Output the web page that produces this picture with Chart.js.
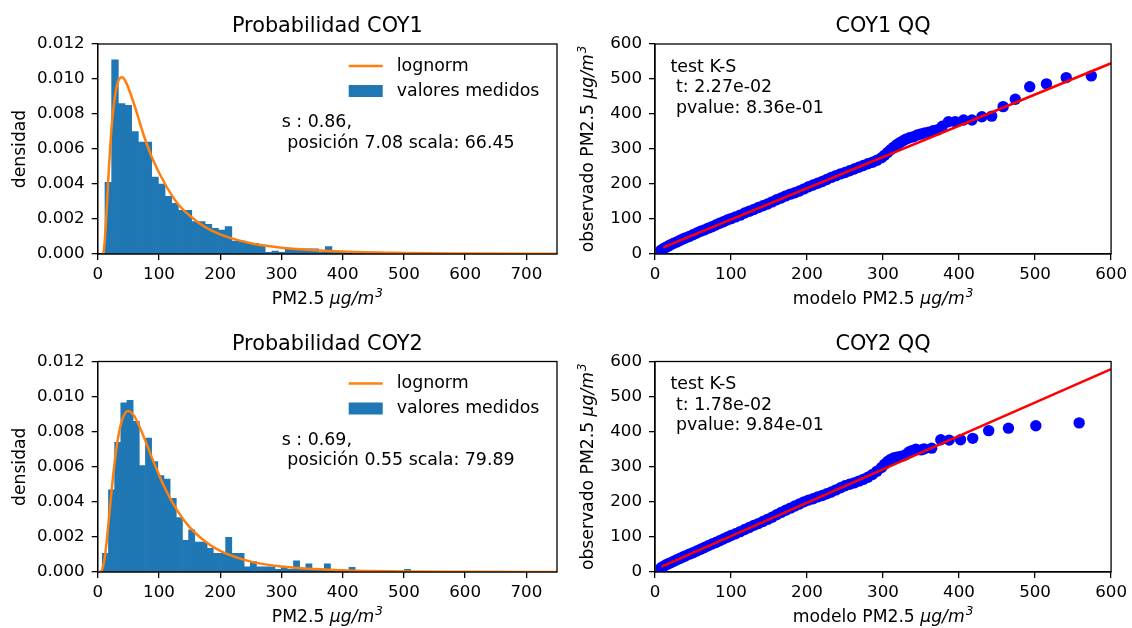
<!DOCTYPE html>
<html>
<head>
<meta charset="utf-8">
<script src="https://cdn.jsdelivr.net/npm/chart.js@4.4.1/dist/chart.umd.min.js"></script>
<style>
html, body { margin: 0; padding: 0; background: #fff; }
#fig { position: relative; width: 1132px; height: 628px; overflow: hidden; background: #fff; }
#fig canvas { position: absolute; }
</style>
</head>
<body>
<div id="fig">
  <canvas id="histCoy1" width="566" height="314" style="left:0;top:0"></canvas>
  <canvas id="qqCoy1" width="566" height="314" style="left:566px;top:0"></canvas>
  <canvas id="histCoy2" width="566" height="314" style="left:0;top:314px"></canvas>
  <canvas id="qqCoy2" width="566" height="314" style="left:566px;top:314px"></canvas>
</div>
<script>
// ticks
const histXTicks = [0, 100, 200, 300, 400, 500, 600, 700];
const histYTicks = [0, 0.002, 0.004, 0.006, 0.008, 0.010, 0.012];
const qqTicks = [0, 100, 200, 300, 400, 500, 600];

// COY1 histogram (density per bin) and fitted lognorm
const coy1BinStart = 11.9;
const coy1BinWidth = 10.9;
const coy1Density = [
  0.0041, 0.0111, 0.0086, 0.0085, 0.0070, 0.0064, 0.0064, 0.0044, 0.0040, 0.0033,
  0.0029, 0.0025, 0.0025, 0.00185, 0.00185, 0.0017, 0.00147, 0.00137, 0.00156, 0.00074,
  0.00074, 0.00061, 0.00061, 0.00051, 0.0001, 0.00017, 0.0001, 0.00029, 0.00029, 0.00029,
  0.00029, 0.00029, 0.0001, 0.00042, 0.0001, 0.0001, 0, 0.0001, 0, 0.0001,
  0, 0, 0.0001, 0, 0, 0, 0, 0, 0.0001
];
const coy1CurveX = [7.1, 8, 9, 10, 11, 12, 13.5, 15, 17, 20, 22, 25, 30, 35, 40, 45, 50, 60, 75, 90, 110, 130, 150, 175, 200, 250, 300, 400, 500, 600, 750];
const coy1CurveY = [0, 0.000004, 0.00005, 0.0002, 0.00053, 0.00097, 0.0018, 0.00275, 0.0041, 0.0059, 0.0069, 0.0081, 0.0094, 0.0100, 0.0101, 0.0099, 0.0095, 0.0085, 0.0068, 0.0054, 0.0040, 0.0029, 0.0022, 0.00155, 0.00112, 0.00061, 0.00036, 0.00014, 0.00006, 0.00003, 0.00001];

// COY2 histogram and lognorm
const coy2BinStart = 7.5;
const coy2BinWidth = 10.07;
const coy2Density = [
  0.00107, 0.00469, 0.00739, 0.00964, 0.00979, 0.00859, 0.00606, 0.00764, 0.0063, 0.0055,
  0.0053, 0.0042, 0.0031, 0.0018, 0.0024, 0.0017, 0.0017, 0.00135, 0.00107, 0.00107,
  0.00198, 0.00107, 0.00107, 0.0003, 0.00059, 0.0003, 0.0003, 0.0003, 0.00015, 0.0003,
  0.00015, 0.00063, 0.00015, 0.00046, 0.0001, 0.0001, 0.00046, 0.0001, 0.0001, 0,
  0.00027, 0, 0.0001, 0, 0, 0.0001, 0, 0, 0, 0.00015
];
const coy2CurveX = [0.6, 3, 5, 7.5, 10, 12.5, 15, 20, 25, 30, 35, 40, 45, 50, 60, 75, 90, 110, 130, 150, 175, 200, 250, 300, 400, 500, 600, 750];
const coy2CurveY = [0, 0.000003, 0.00002, 0.00016, 0.00051, 0.00109, 0.00186, 0.00366, 0.00543, 0.0069, 0.00798, 0.00869, 0.00907, 0.00918, 0.00887, 0.00773, 0.00638, 0.00476, 0.0035, 0.00256, 0.00175, 0.0012, 0.00059, 0.00031, 0.000095, 0.000034, 0.000014, 0.000004];

// COY1 QQ points (modelo vs observado) and reference line
const qq1Model = [8, 11, 14, 17, 20, 24, 28, 32, 36, 40, 45, 50, 55, 60, 65, 70, 75, 80, 85, 90, 95, 100, 106, 112, 118, 124, 130, 136, 142, 148, 154, 160, 166, 172, 178, 184, 190, 196, 202, 208, 214, 220, 226, 232, 238, 244, 250, 256, 262, 268, 274, 280, 286, 292, 298, 302, 306, 310, 314, 318, 322, 326, 330, 335, 340, 345, 350, 355, 360, 366, 372, 378, 386, 395, 406, 417, 430, 443, 458, 474, 493, 515, 541, 574];
const qq1Obs = [11, 15, 19, 22, 26, 30, 34, 38, 42, 46, 50, 55, 60, 65, 69, 74, 78, 83, 88, 92, 97, 101, 106, 111, 117, 122, 127, 133, 138, 143, 149, 155, 160, 166, 171, 175, 180, 186, 192, 197, 202, 207, 213, 219, 224, 229, 233, 238, 243, 248, 253, 258, 262, 268, 275, 282, 290, 298, 305, 312, 318, 323, 328, 332, 335, 340, 343, 346, 348, 352, 355, 365, 378, 378, 383, 383, 392, 394, 421, 442, 478, 486, 504, 509];
const qq1LineX = [10.9, 600];
const qq1LineY = [19.1, 545];

// COY2 QQ
const qq2Model = [8, 11, 14, 17, 20, 24, 28, 32, 36, 40, 45, 50, 55, 60, 65, 70, 75, 80, 85, 90, 95, 100, 106, 112, 118, 124, 130, 136, 142, 148, 154, 160, 166, 172, 178, 184, 190, 196, 202, 208, 214, 220, 226, 232, 238, 244, 250, 256, 262, 268, 274, 280, 286, 292, 298, 302, 306, 310, 314, 318, 322, 326, 330, 334, 338, 343, 350, 354, 364, 376, 387, 402, 418, 439, 465, 501, 558];
const qq2Obs = [12, 16, 20, 23, 26, 30, 34, 38, 42, 46, 51, 55, 60, 65, 70, 75, 80, 84, 89, 94, 99, 104, 109, 115, 121, 127, 133, 138, 144, 150, 156, 163, 170, 176, 182, 188, 194, 200, 205, 209, 214, 218, 223, 228, 234, 240, 246, 250, 254, 259, 264, 270, 278, 287, 298, 307, 315, 321, 325, 327, 329, 331, 334, 342, 346, 350, 348, 351, 353, 377, 376, 377, 381, 403, 410, 417, 425];
const qq2LineX = [8.7, 600];
const qq2LineY = [15.2, 578];

const FONT = '"DejaVu Sans", sans-serif';
const FS = 16.7;     // tick labels
const FS_LAB = 17.2; // axis labels
const FS_TXT = 17.4; // notes and legend
const C_BAR = '#1f77b4';
const C_FIT = '#ff7f0e';
const W = 566, H = 314;

Chart.defaults.font.family = FONT;
Chart.defaults.font.size = FS;
Chart.defaults.color = '#000';
Chart.defaults.animation = false;
Chart.defaults.plugins.legend.display = false;
Chart.defaults.plugins.tooltip.enabled = false;

const UNITS = [['PM2.5 ', 'n'], ['\u03bcg/m', 'i'], ['3', 's']];

function segFont(st) {
  const size = st === 's' ? FS_LAB * 0.7 : FS_LAB;
  return (st === 'n' ? '' : 'italic ') + size + 'px ' + FONT;
}

// draws text made of normal / italic / superscript pieces, centred on x
function drawRich(ctx, segs, x, y) {
  let w = 0;
  segs.forEach(([t, st]) => { ctx.font = segFont(st); w += ctx.measureText(t).width + (st === 's' ? 1 : 0); });
  let cx = x - w / 2;
  ctx.textAlign = 'left';
  ctx.textBaseline = 'alphabetic';
  segs.forEach(([t, st]) => {
    ctx.font = segFont(st);
    if (st === 's') cx += 1;
    ctx.fillText(t, cx, st === 's' ? y - 7 : y);
    cx += ctx.measureText(t).width;
  });
}

function panelPlugin(cfg) {
  return {
    id: 'panel',
    afterDatasetsDraw(chart) {
      const { ctx, chartArea: a } = chart;
      ctx.save();
      ctx.strokeStyle = '#000';
      ctx.lineWidth = 1.3;
      ctx.strokeRect(a.left, a.top, a.right - a.left, a.bottom - a.top);
      ctx.restore();
    },
    afterDraw(chart) {
      const { ctx, chartArea: a } = chart;
      const cx = (a.left + a.right) / 2;
      const cy = (a.top + a.bottom) / 2;
      ctx.save();
      ctx.fillStyle = '#000';

      ctx.font = '20.8px ' + FONT;
      ctx.textAlign = 'center';
      ctx.textBaseline = 'alphabetic';
      ctx.fillText(cfg.title, cx, a.top - 12);

      drawRich(ctx, cfg.xlabel, cx, a.bottom + 50);

      ctx.save();
      ctx.translate(a.left - cfg.ylabelGap, cy);
      ctx.rotate(-Math.PI / 2);
      drawRich(ctx, cfg.ylabel, 0, 0);
      ctx.restore();

      ctx.font = FS_TXT + 'px ' + FONT;
      ctx.textAlign = 'left';
      ctx.textBaseline = 'alphabetic';
      cfg.notes.forEach((t, i) => {
        ctx.fillText(t, a.left + cfg.noteX, a.top + cfg.noteY + i * cfg.noteStep);
      });

      if (cfg.legend) {
        const lx = a.left + 251;
        ctx.strokeStyle = C_FIT;
        ctx.lineWidth = 2.5;
        ctx.beginPath();
        ctx.moveTo(lx, a.top + 22);
        ctx.lineTo(lx + 34, a.top + 22);
        ctx.stroke();
        ctx.fillStyle = C_BAR;
        ctx.fillRect(lx, a.top + 41, 34, 12);
        ctx.fillStyle = '#000';
        ctx.textBaseline = 'middle';
        ctx.fillText('lognorm', lx + 48, a.top + 22);
        ctx.fillText('valores medidos', lx + 48, a.top + 47);
      }
      ctx.restore();
    }
  };
}

function axis(pos, min, max, ticks, fmt, size) {
  return {
    type: 'linear',
    position: pos,
    min: min,
    max: max,
    offset: false,
    grid: { display: true, drawOnChartArea: false, drawTicks: true, tickLength: 6, color: '#000', lineWidth: 1.3, offset: false },
    border: { display: true, color: '#000', width: 1.3 },
    ticks: { autoSkip: false, maxRotation: 0, minRotation: 0, padding: pos === 'left' ? 7 : 5, color: '#000', font: { size: FS }, callback: fmt },
    afterBuildTicks: s => { s.ticks = ticks.map(v => ({ value: v })); },
    afterFit: s => { if (pos === 'left') s.width = size; else s.height = size; }
  };
}

function layoutFor(area) {
  return { padding: { left: 0, top: area.top, right: W - area.right, bottom: 0 } };
}

function histChart(id, area, binStart, binWidth, dens, curveX, curveY, cfg) {
  const bars = dens.map((d, i) => ({ x: binStart + binWidth * (i + 0.5), y: d }));
  const curve = curveX.map((x, i) => ({ x: x, y: curveY[i] }));
  new Chart(document.getElementById(id), {
    type: 'bar',
    data: {
      datasets: [
        { type: 'line', label: 'lognorm', data: curve, borderColor: C_FIT, borderWidth: 2.5, pointRadius: 0,
          cubicInterpolationMode: 'monotone', fill: false, order: 0, clip: 0 },
        { type: 'bar', label: 'valores medidos', data: bars, backgroundColor: C_BAR, borderWidth: 0,
          barPercentage: 1, categoryPercentage: 1, order: 1, clip: 0 }
      ]
    },
    options: {
      responsive: false,
      devicePixelRatio: 1,
      layout: layoutFor(area),
      scales: {
        x: axis('bottom', 0, 750, histXTicks, v => String(v), H - area.bottom),
        y: axis('left', 0, 0.012, histYTicks, v => v.toFixed(3), area.left)
      }
    },
    plugins: [panelPlugin(cfg)]
  });
}

function qqChart(id, area, mx, oy, lx, ly, cfg) {
  const pts = mx.map((x, i) => ({ x: x, y: oy[i] }));
  const line = lx.map((x, i) => ({ x: x, y: ly[i] }));
  new Chart(document.getElementById(id), {
    type: 'scatter',
    data: {
      datasets: [
        { type: 'line', data: line, borderColor: '#ff0000', borderWidth: 2.5, pointRadius: 0, fill: false, order: 0, clip: 0 },
        { type: 'scatter', data: pts, backgroundColor: '#0000ff', pointBorderWidth: 0, borderWidth: 0,
          pointRadius: 5.7, order: 1, clip: 0 }
      ]
    },
    options: {
      responsive: false,
      devicePixelRatio: 1,
      layout: layoutFor(area),
      scales: {
        x: axis('bottom', 0, 600, qqTicks, v => String(v), H - area.bottom),
        y: axis('left', 0, 600, qqTicks, v => String(v), area.left)
      }
    },
    plugins: [panelPlugin(cfg)]
  });
}

const areaHistTop = { left: 97.7, top: 44, right: 557, bottom: 254 };
const areaQqTop = { left: 89, top: 44, right: 547.3, bottom: 254 };
const areaHistBot = { left: 97.7, top: 47.5, right: 557, bottom: 258 };
const areaQqBot = { left: 89, top: 47.5, right: 547.3, bottom: 258 };

histChart('histCoy1', areaHistTop, coy1BinStart, coy1BinWidth, coy1Density, coy1CurveX, coy1CurveY, {
  title: 'Probabilidad COY1', xlabel: UNITS, ylabel: [['densidad', 'n']], ylabelGap: 72.7,
  notes: ['s : 0.86,', ' posición 7.08 scala: 66.45'], noteX: 184, noteY: 83, noteStep: 20.5, legend: true
});
qqChart('qqCoy1', areaQqTop, qq1Model, qq1Obs, qq1LineX, qq1LineY, {
  title: 'COY1 QQ', xlabel: [['modelo ', 'n']].concat(UNITS), ylabel: [['observado ', 'n']].concat(UNITS), ylabelGap: 62,
  notes: ['test K-S', ' t: 2.27e-02', ' pvalue: 8.36e-01'], noteX: 15.5, noteY: 27.7, noteStep: 20.6, legend: false
});
histChart('histCoy2', areaHistBot, coy2BinStart, coy2BinWidth, coy2Density, coy2CurveX, coy2CurveY, {
  title: 'Probabilidad COY2', xlabel: UNITS, ylabel: [['densidad', 'n']], ylabelGap: 72.7,
  notes: ['s : 0.69,', ' posición 0.55 scala: 79.89'], noteX: 184, noteY: 83, noteStep: 20.5, legend: true
});
qqChart('qqCoy2', areaQqBot, qq2Model, qq2Obs, qq2LineX, qq2LineY, {
  title: 'COY2 QQ', xlabel: [['modelo ', 'n']].concat(UNITS), ylabel: [['observado ', 'n']].concat(UNITS), ylabelGap: 62,
  notes: ['test K-S', ' t: 1.78e-02', ' pvalue: 9.84e-01'], noteX: 15.5, noteY: 27.7, noteStep: 20.6, legend: false
});
</script>
</body>
</html>
